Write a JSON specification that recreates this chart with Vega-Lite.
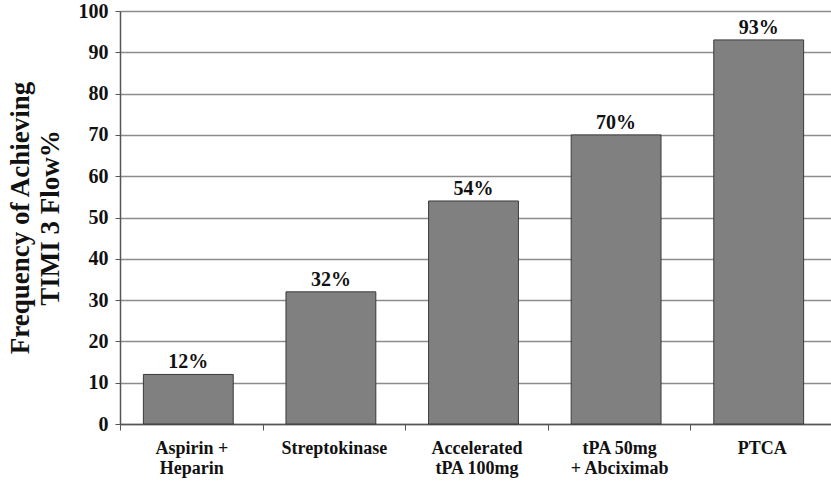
{
  "$schema": "https://vega.github.io/schema/vega-lite/v6.json",
  "autosize": {"type": "none"},
  "width": 713,
  "height": 413,
  "padding": {"left": 120, "top": 11, "right": 0, "bottom": 64},
  "background": "white",
  "config": {
    "view": {"stroke": null},
    "font": "Liberation Serif"
  },
  "data": {
    "values": [
      {"therapy": "Aspirin +\nHeparin", "timi3": 12, "label": "12%"},
      {"therapy": "Streptokinase", "timi3": 32, "label": "32%"},
      {"therapy": "Accelerated\ntPA 100mg", "timi3": 54, "label": "54%"},
      {"therapy": "tPA 50mg\n+ Abciximab", "timi3": 70, "label": "70%"},
      {"therapy": "PTCA", "timi3": 93, "label": "93%"}
    ]
  },
  "encoding": {
    "x": {
      "field": "therapy",
      "type": "nominal",
      "sort": null,
      "scale": {"paddingInner": 0, "paddingOuter": 0},
      "axis": {
        "title": null,
        "labelAngle": 0,
        "labelExpr": "split(datum.label, '\\n')",
        "labelFont": "Liberation Serif",
        "labelFontWeight": "bold",
        "labelFontSize": 18,
        "labelColor": "#111",
        "labelLineHeight": 20,
        "labelPadding": 9,
        "tickBand": "extent",
        "tickSize": 6,
        "tickColor": "#555",
        "domainColor": "#555",
        "domainWidth": 1.5,
        "grid": false
      }
    },
    "y": {
      "field": "timi3",
      "type": "quantitative",
      "scale": {"domain": [0, 100]},
      "axis": {
        "title": ["Frequency of Achieving", "TIMI 3 Flow%"],
        "titleFont": "Liberation Serif",
        "titleFontWeight": "bold",
        "titleFontSize": 27,
        "titleLineHeight": 30,
        "titleColor": "#111",
        "titlePadding": 14,
        "values": [0, 10, 20, 30, 40, 50, 60, 70, 80, 90, 100],
        "labelFont": "Liberation Serif",
        "labelFontWeight": "bold",
        "labelFontSize": 20,
        "labelColor": "#111",
        "labelPadding": 7,
        "tickSize": 5,
        "tickColor": "#555",
        "domainColor": "#555",
        "domainWidth": 1.5,
        "grid": true,
        "gridColor": "#8c8c8c",
        "gridWidth": 1.3
      }
    }
  },
  "layer": [
    {
      "mark": {
        "type": "bar",
        "width": {"band": 0.63},
        "xOffset": -3,
        "fill": "#808080",
        "stroke": "#3a3a3a",
        "strokeWidth": 1
      }
    },
    {
      "mark": {
        "type": "text",
        "baseline": "alphabetic",
        "dy": -6,
        "xOffset": -3,
        "font": "Liberation Serif",
        "fontWeight": "bold",
        "fontSize": 20,
        "color": "#111"
      },
      "encoding": {"text": {"field": "label"}}
    }
  ]
}
